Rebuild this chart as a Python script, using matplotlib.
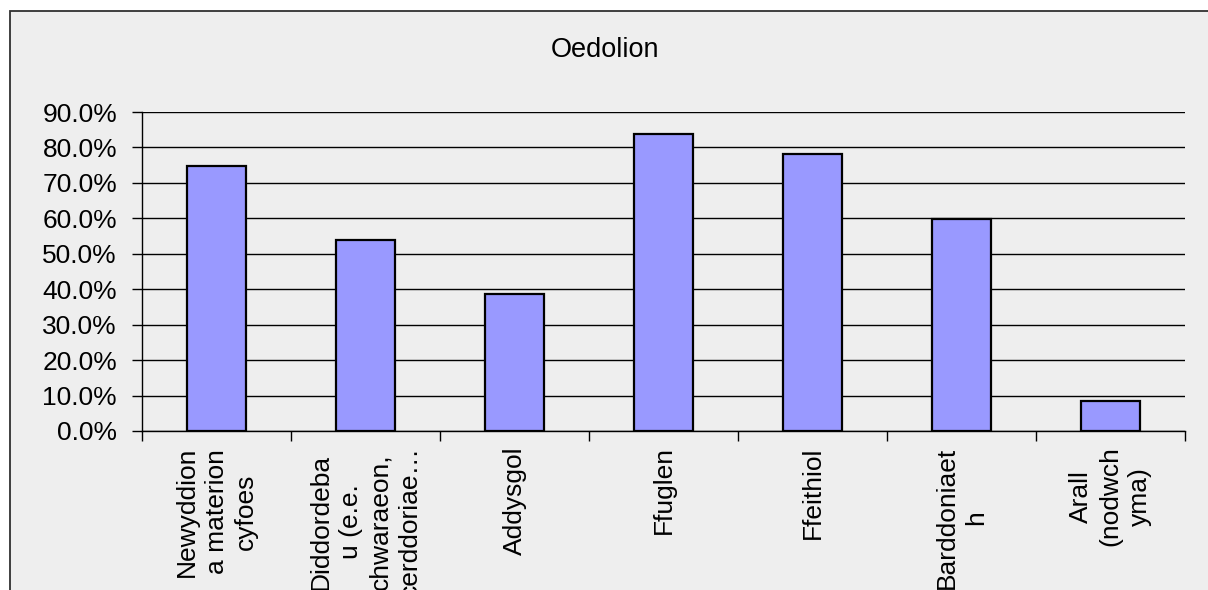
import numpy as np
import matplotlib.pyplot as plt
from matplotlib.patches import Rectangle
from matplotlib.ticker import FuncFormatter, FixedLocator

plt.rcParams['font.family'] = ['Liberation Sans', 'DejaVu Sans']

title = "Oedolion"
categories = ["Newyddion\na materion\ncyfoes",
              "Diddordeba\nu (e.e.\nchwaraeon,\ncerddoriae…",
              "Addysgol",
              "Ffuglen",
              "Ffeithiol",
              "Barddoniaet\nh",
              "Arall\n(nodwch\nyma)"]
values = [0.748, 0.539, 0.387, 0.838, 0.782, 0.598, 0.085]

W, H = 1208, 590
fig = plt.figure(figsize=(W/100, H/100), dpi=100)
fig.patch.set_facecolor('white')

# grey chart area with border (runs off the right/bottom edge)
frame = Rectangle((10/W, -0.2), 1.2, 1.2 - 11/H, transform=fig.transFigure,
                  facecolor='#eeeeee', edgecolor='#303030', linewidth=1.3, zorder=-10)
fig.add_artist(frame)

ax = fig.add_axes([142/W, (H-431)/H, 1043/W, 319/H])
ax.set_facecolor('none')

x = np.arange(len(categories))
ax.bar(x, values, width=0.4, color='#9999ff', edgecolor='black', linewidth=1.6, zorder=3)

ax.set_xlim(-0.5, len(categories)-0.5)
ax.set_ylim(0, 0.9)
ax.set_yticks(np.arange(0, 0.91, 0.1))
ax.yaxis.set_major_formatter(FuncFormatter(lambda v, p: f"{v*100:.1f}%"))
ax.yaxis.grid(True, color='black', linewidth=1.0, zorder=0)
ax.set_axisbelow(True)

ax.set_xticks(x)
ax.set_xticklabels(categories, rotation=90, ha='center', va='top',
                   multialignment='center', fontsize=19, linespacing=1.3)
ax.xaxis.set_minor_locator(FixedLocator(np.arange(-0.5, len(categories), 1.0)))
ax.tick_params(axis='x', which='major', length=0, pad=11)
ax.tick_params(axis='x', which='minor', length=7, width=1.0, color='black')
ax.tick_params(axis='y', length=7, width=1.0, color='black', labelsize=19, pad=11)

for s in ['top', 'right']:
    ax.spines[s].set_visible(False)
ax.spines['left'].set_linewidth(1.0)
ax.spines['bottom'].set_linewidth(1.0)

fig.text(605/W, 1 - 50/H, title, ha='center', va='center', fontsize=19.5)

fig.savefig('out.png', dpi=100)
